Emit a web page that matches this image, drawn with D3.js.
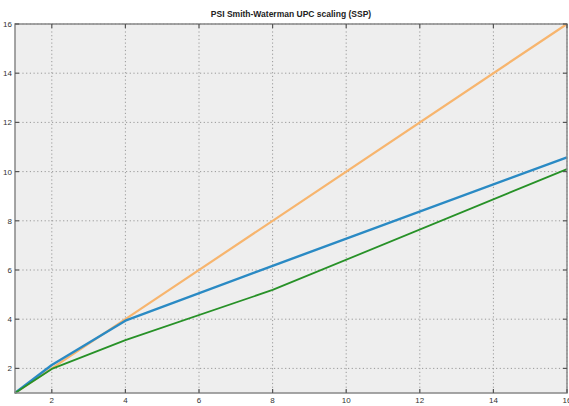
<!DOCTYPE html>
<html><head><meta charset="utf-8">
<script src="https://cdn.jsdelivr.net/npm/d3@7"></script>
<style>body{margin:0;background:#fff;}svg{display:block;}</style>
</head><body>
<script>
const threads = [1, 2, 4, 8, 16];
const ideal = [1, 2, 4, 8, 16];
const upcA = [1, 2.14, 3.94, 6.17, 10.58];
const upcB = [1, 1.98, 3.15, 5.19, 10.1];
const xTicks = [2, 4, 6, 8, 10, 12, 14, 16];
const yTicks = [2, 4, 6, 8, 10, 12, 14, 16];
const title = "PSI Smith-Waterman UPC scaling (SSP)";

const W = 569, H = 406;
const m = {l: 15, r: 2, t: 24, b: 13};
const svg = d3.select("body").append("svg").attr("width", W).attr("height", H);
const x = d3.scaleLinear().domain([1, 16]).range([m.l, W - m.r]);
const y = d3.scaleLinear().domain([1, 16]).range([H - m.b, m.t]);

svg.append("rect").attr("x", m.l).attr("y", m.t).attr("width", W - m.r - m.l).attr("height", H - m.b - m.t).attr("fill", "#eeeeee");

const g = svg.append("g").attr("stroke", "#999").attr("stroke-width", 1).attr("stroke-dasharray", "1.2,2.5");
xTicks.forEach(t => g.append("line").attr("x1", x(t)).attr("x2", x(t)).attr("y1", m.t).attr("y2", H - m.b));
yTicks.forEach(t => g.append("line").attr("y1", y(t)).attr("y2", y(t)).attr("x1", m.l).attr("x2", W - m.r));

const line = d3.line().x((d, i) => x(threads[i])).y(d => y(d));
[[ideal, "#f7b56e", 2.2], [upcA, "#2a8ac4", 2.4], [upcB, "#279127", 1.8]].forEach(([s, c, w]) => {
  svg.append("path").datum(s).attr("d", line).attr("fill", "none").attr("stroke", c).attr("stroke-width", w).attr("stroke-linejoin", "round");
});

svg.append("rect").attr("x", m.l).attr("y", m.t).attr("width", W - m.r - m.l).attr("height", H - m.b - m.t).attr("fill", "none").attr("stroke", "#888").attr("stroke-width", 1.5);

const tk = 4;
const axG = svg.append("g").attr("stroke", "#555").attr("stroke-width", 1.2);
xTicks.forEach(t => {
  axG.append("line").attr("x1", x(t)).attr("x2", x(t)).attr("y1", H - m.b).attr("y2", H - m.b - tk);
  axG.append("line").attr("x1", x(t)).attr("x2", x(t)).attr("y1", m.t).attr("y2", m.t + tk);
});
yTicks.forEach(t => {
  axG.append("line").attr("y1", y(t)).attr("y2", y(t)).attr("x1", m.l).attr("x2", m.l + tk);
  axG.append("line").attr("y1", y(t)).attr("y2", y(t)).attr("x1", W - m.r).attr("x2", W - m.r - tk);
});

svg.append("g").selectAll("text").data(xTicks).join("text")
  .attr("x", d => x(d)).attr("y", H - 3).attr("text-anchor", "middle")
  .attr("font-family", "Liberation Sans, Arial, sans-serif").attr("font-size", 8).attr("fill", "#333").text(d => d);
svg.append("g").selectAll("text").data(yTicks).join("text")
  .attr("x", m.l - 3).attr("y", d => y(d) + 3).attr("text-anchor", "end")
  .attr("font-family", "Liberation Sans, Arial, sans-serif").attr("font-size", 8).attr("fill", "#333").text(d => d);

svg.append("text").attr("x", 291).attr("y", 17).attr("text-anchor", "middle")
  .attr("font-family", "Liberation Sans, Arial, sans-serif").attr("font-size", 8.5).attr("font-weight", "bold").attr("fill", "#222").text(title);
</script>
</body></html>
